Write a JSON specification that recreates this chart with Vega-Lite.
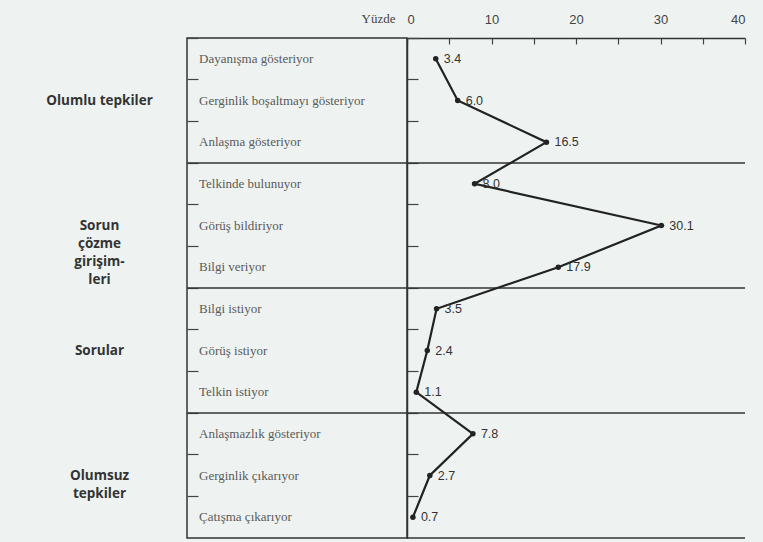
{
  "$schema": "https://vega.github.io/schema/vega-lite/v6.json",
  "background": "#eef3f1",
  "padding": {"left": 0, "top": 12, "right": 18, "bottom": 5},
  "spacing": 0,
  "bounds": "flush",
  "config": {"view": {"stroke": null}, "font": "Liberation Sans"},
  "datasets": {
    "rows": [
      {"n": 1, "category": "Dayanışma gösteriyor", "value": 3.4},
      {"n": 2, "category": "Gerginlik boşaltmayı gösteriyor", "value": 6.0},
      {"n": 3, "category": "Anlaşma gösteriyor", "value": 16.5},
      {"n": 4, "category": "Telkinde bulunuyor", "value": 8.0},
      {"n": 5, "category": "Görüş bildiriyor", "value": 30.1},
      {"n": 6, "category": "Bilgi veriyor", "value": 17.9},
      {"n": 7, "category": "Bilgi istiyor", "value": 3.5},
      {"n": 8, "category": "Görüş istiyor", "value": 2.4},
      {"n": 9, "category": "Telkin istiyor", "value": 1.1},
      {"n": 10, "category": "Anlaşmazlık gösteriyor", "value": 7.8},
      {"n": 11, "category": "Gerginlik çıkarıyor", "value": 2.7},
      {"n": 12, "category": "Çatışma çıkarıyor", "value": 0.7}
    ],
    "groups": [
      {"group": "Olumlu tepkiler", "anchor": "Gerginlik boşaltmayı gösteriyor", "first": "Dayanışma gösteriyor"},
      {"group": "Sorun\nçözme\ngirişim-\nleri", "anchor": "Görüş bildiriyor", "first": "Telkinde bulunuyor"},
      {"group": "Sorular", "anchor": "Görüş istiyor", "first": "Bilgi istiyor"},
      {"group": "Olumsuz\ntepkiler", "anchor": "Gerginlik çıkarıyor", "first": "Anlaşmazlık gösteriyor"}
    ],
    "bottom": [{"last": "Çatışma çıkarıyor"}]
  },
  "hconcat": [
    {
      "width": 187,
      "height": 500,
      "data": {"name": "groups"},
      "mark": {"type": "text", "font": "Open Sans", "fontWeight": "bold", "fontSize": 13.5, "color": "#333", "align": "center", "baseline": "middle", "lineBreak": "\n", "lineHeight": 18, "dx": 6},
      "encoding": {
        "y": {"field": "anchor", "type": "nominal", "axis": null,
          "scale": {"domain": ["Dayanışma gösteriyor", "Gerginlik boşaltmayı gösteriyor", "Anlaşma gösteriyor", "Telkinde bulunuyor", "Görüş bildiriyor", "Bilgi veriyor", "Bilgi istiyor", "Görüş istiyor", "Telkin istiyor", "Anlaşmazlık gösteriyor", "Gerginlik çıkarıyor", "Çatışma çıkarıyor"], "paddingInner": 0, "paddingOuter": 0}},
        "text": {"field": "group", "type": "nominal"}
      }
    },
    {
      "width": 220,
      "height": 500,
      "view": {"stroke": "#333", "strokeWidth": 1.5},
      "layer": [
        {
          "data": {"name": "rows"},
          "mark": {"type": "text", "font": "Liberation Serif", "fontSize": 13, "color": "#5a5a5a", "align": "left", "baseline": "middle", "dx": 12},
          "encoding": {
            "x": {"datum": 0, "type": "quantitative", "scale": {"domain": [0, 1]}, "axis": null},
            "y": {"field": "category", "type": "nominal",
              "scale": {"domain": ["Dayanışma gösteriyor", "Gerginlik boşaltmayı gösteriyor", "Anlaşma gösteriyor", "Telkinde bulunuyor", "Görüş bildiriyor", "Bilgi veriyor", "Bilgi istiyor", "Görüş istiyor", "Telkin istiyor", "Anlaşmazlık gösteriyor", "Gerginlik çıkarıyor", "Çatışma çıkarıyor"], "paddingInner": 0, "paddingOuter": 0},
              "axis": {"orient": "left", "title": null, "labels": false, "domain": false, "bandPosition": 0, "tickSize": -11, "tickColor": "#444", "tickWidth": 1.2}},
            "text": {"field": "category", "type": "nominal"}
          }
        },
        {
          "data": {"name": "groups"},
          "transform": [{"filter": "datum.first != 'Dayanışma gösteriyor'"}],
          "mark": {"type": "rule", "color": "#333", "strokeWidth": 1.5},
          "encoding": {
            "y": {"field": "first", "type": "nominal", "bandPosition": 0}
          }
        }
      ]
    },
    {
      "width": 338,
      "height": 500,
      "layer": [
        {
          "data": {"name": "groups"},
          "transform": [{"filter": "datum.first != 'Dayanışma gösteriyor'"}],
          "mark": {"type": "rule", "color": "#333", "strokeWidth": 1.5},
          "encoding": {
            "y": {"field": "first", "type": "nominal", "bandPosition": 0}
          }
        },
        {
          "data": {"name": "bottom"},
          "mark": {"type": "rule", "color": "#333", "strokeWidth": 1.5},
          "encoding": {
            "y": {"field": "last", "type": "nominal", "bandPosition": 1}
          }
        },
        {
          "data": {"name": "rows"},
          "mark": {"type": "line", "color": "#222", "strokeWidth": 2.2},
          "encoding": {
            "x": {"field": "value", "type": "quantitative",
              "scale": {"domain": [0, 40], "nice": false},
              "axis": {"orient": "top", "values": [0, 5, 10, 15, 20, 25, 30, 35, 40], "labelExpr": "datum.value % 10 == 0 ? datum.label : ''", "grid": false, "domainColor": "#333", "domainWidth": 1.5, "tickColor": "#444", "tickSize": -6, "tickWidth": 1.2, "labelPadding": 18, "labelFontSize": 13, "labelColor": "#444", "labelFont": "Liberation Sans",
                "title": "Yüzde", "titleFont": "Liberation Serif", "titleFontSize": 13, "titleFontWeight": "normal", "titleColor": "#444", "titleAnchor": "start", "titleAlign": "right", "titleX": -12, "titleY": -20, "titleBaseline": "middle"}},
            "y": {"field": "category", "type": "nominal",
              "scale": {"domain": ["Dayanışma gösteriyor", "Gerginlik boşaltmayı gösteriyor", "Anlaşma gösteriyor", "Telkinde bulunuyor", "Görüş bildiriyor", "Bilgi veriyor", "Bilgi istiyor", "Görüş istiyor", "Telkin istiyor", "Anlaşmazlık gösteriyor", "Gerginlik çıkarıyor", "Çatışma çıkarıyor"], "paddingInner": 0, "paddingOuter": 0},
              "axis": {"orient": "left", "title": null, "labels": false, "domainColor": "#333", "domainWidth": 1.5, "bandPosition": 0, "tickSize": -11, "tickColor": "#444", "tickWidth": 1.2}},
            "order": {"field": "n", "type": "quantitative"}
          }
        },
        {
          "data": {"name": "rows"},
          "mark": {"type": "circle", "color": "#222", "size": 30, "opacity": 1},
          "encoding": {
            "x": {"field": "value", "type": "quantitative"},
            "y": {"field": "category", "type": "nominal"}
          }
        },
        {
          "data": {"name": "rows"},
          "mark": {"type": "text", "align": "left", "baseline": "middle", "dx": 8, "fontSize": 12.5, "color": "#333"},
          "encoding": {
            "x": {"field": "value", "type": "quantitative"},
            "y": {"field": "category", "type": "nominal"},
            "text": {"field": "value", "type": "quantitative", "format": ".1f"}
          }
        }
      ]
    }
  ]
}
